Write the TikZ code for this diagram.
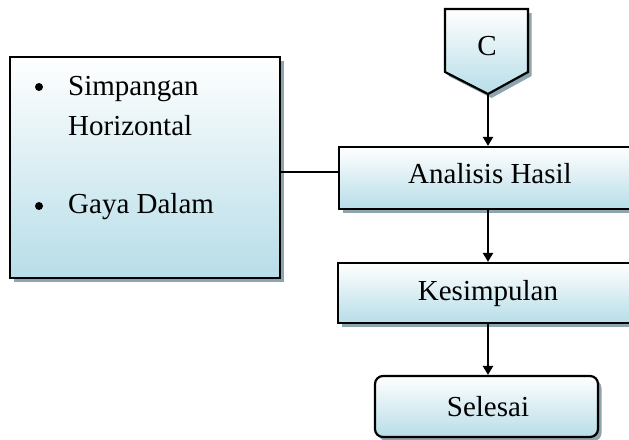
\documentclass[tikz,border=0pt]{standalone}
\usepackage{fontspec}
\setmainfont{Liberation Serif}
\usetikzlibrary{shadows,arrows.meta}
\definecolor{boxblue}{HTML}{B7DDE8}
\definecolor{shadowc}{HTML}{8DA5AF}
\tikzset{
  shad/.style={drop shadow={shadow xshift=3.5pt,shadow yshift=-4pt,fill=shadowc,opacity=1}},
  boxst/.style={draw=black, line width=2.2pt, top color=white, bottom color=boxblue, shad, inner sep=0pt},
  txt/.style={anchor=base, inner sep=0pt, font=\fontsize{29}{35}\selectfont},
  dot/.style={circle, fill=black, inner sep=0pt, minimum size=8pt},
  arr/.style={line width=2.2pt, -{Triangle[length=9pt,width=10pt]}},
  ln/.style={line width=2.2pt}
}
\begin{document}
\begin{tikzpicture}[x=1pt,y=-1pt]
\useasboundingbox (0,0) rectangle (629,439);
\fill[white] (0,0) rectangle (629,439);
\clip (0,0) rectangle (629,439);
% off-page connector
\path[boxst] (445,9) -- (528,9) -- (528,72) -- (488,94) -- (445,72) -- cycle;
\coordinate (ctip) at (488,94);
\node[txt] (ct) at (487,55) {C};
% left box
\node[boxst, minimum width=270pt, minimum height=221pt] (lb) at (145,167.5) {};
\node[dot] (b1) at (39,87) {};
\node[txt, anchor=base west] (t1) at (68,95) {Simpangan};
\node[txt, anchor=base west] (t2) at (68,135) {Horizontal};
\node[dot] (b2) at (39,206) {};
\node[txt, anchor=base west] (t3) at (68,213) {Gaya Dalam};
% right boxes
\node[boxst, minimum width=300pt, minimum height=62pt] (ah) at (489,178) {};
\node[txt] (aht) at (490,183) {Analisis Hasil};
\node[boxst, minimum width=302pt, minimum height=60pt] (kp) at (489,293) {};
\node[txt] (kpt) at (488,300.5) {Kesimpulan};
\node[boxst, rounded corners=8pt, minimum width=223pt, minimum height=61pt] (sl) at (486.5,406.5) {};
\node[txt] (slt) at (488,416) {Selesai};
% connectors
\draw[arr] (ctip) -- (ctip |- ah.north);
\draw[ln] (lb.east |- 0,172) -- (ah.west |- 0,172);
\draw[arr] (ah.south -| ctip) -- (kp.north -| ctip);
\draw[arr] (kp.south -| ctip) -- (sl.north -| ctip);
\end{tikzpicture}
\end{document}
